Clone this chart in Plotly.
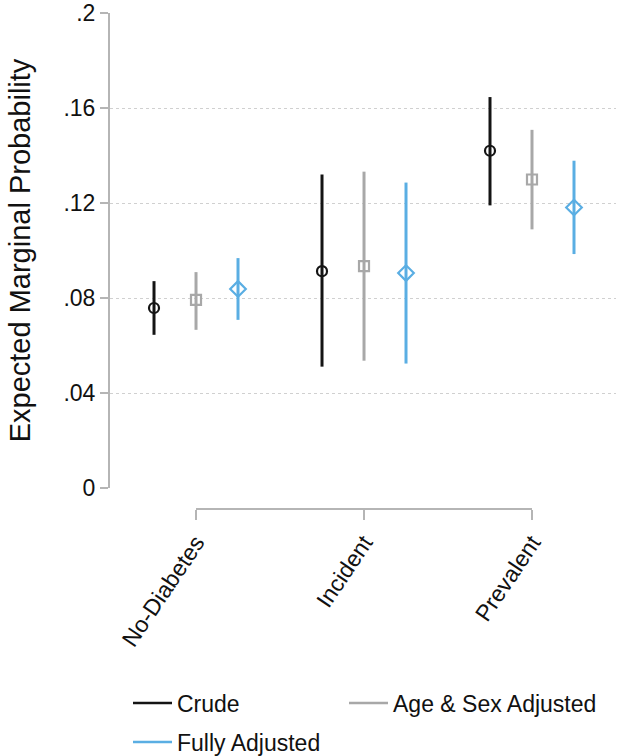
import plotly.graph_objects as go

categories = ["No-Diabetes", "Incident", "Prevalent"]
series_names = ["Crude", "Age & Sex Adjusted", "Fully Adjusted"]

crude = [0.0758, 0.0913, 0.1420]
crude_lo = [0.0645, 0.0511, 0.1190]
crude_hi = [0.0871, 0.1320, 0.1646]

agesex = [0.0792, 0.0934, 0.1299]
agesex_lo = [0.0666, 0.0536, 0.1089]
agesex_hi = [0.0909, 0.1332, 0.1508]

fully = [0.0838, 0.0905, 0.1181]
fully_lo = [0.0708, 0.0524, 0.0985]
fully_hi = [0.0968, 0.1286, 0.1378]

y_tickvals = [0, 0.04, 0.08, 0.12, 0.16, 0.2]
y_ticktext = ["0", ".04", ".08", ".12", ".16", ".2"]
grid_vals = [0.04, 0.08, 0.12, 0.16]

colors = ["#141414", "#a8a8a8", "#5aaee3"]
symbols = ["circle-open", "square-open", "diamond-open"]
offsets = [-0.25, 0.0, 0.25]
sizes = [10, 10, 12]

series = [(crude, crude_lo, crude_hi), (agesex, agesex_lo, agesex_hi), (fully, fully_lo, fully_hi)]

fig = go.Figure()
base_x = list(range(1, len(categories) + 1))
for i, (vals, lo, hi) in enumerate(series):
    xs = [b + offsets[i] for b in base_x]
    fig.add_trace(go.Scatter(
        x=xs, y=vals, mode="markers", showlegend=False,
        marker=dict(symbol=symbols[i], size=sizes[i], color=colors[i], line=dict(width=2.2, color=colors[i])),
        error_y=dict(type="data", symmetric=False,
                     array=[h - v for h, v in zip(hi, vals)],
                     arrayminus=[v - l for v, l in zip(vals, lo)],
                     width=0, thickness=3, color=colors[i]),
    ))

# legend entries (line swatches), one legend box per position
legend_ids = ["legend", "legend2", "legend3"]
for i in range(3):
    fig.add_trace(go.Scatter(x=[None], y=[None], mode="lines", name=series_names[i],
                             legend=legend_ids[i], line=dict(color=colors[i], width=2.5)))

# x-axis baseline spanning the categories (Stata style)
fig.add_shape(type="line", xref="x", yref="paper", x0=base_x[0], x1=base_x[-1], y0=0, y1=0,
              line=dict(color="#b5b5b5", width=2))

legend_font = dict(size=23, color="#111111", family="Liberation Sans, Arial, sans-serif")


def leg(xpix, ypix):
    return dict(orientation="h", xref="container", yref="container",
                x=xpix / 618, xanchor="left", y=(756 - ypix) / 756, yanchor="middle",
                itemwidth=39, bgcolor="rgba(0,0,0,0)", font=legend_font)


plot_top, plot_bottom = 13, 509
fig.update_layout(
    template="none",
    width=618, height=756,
    margin=dict(l=110, r=2, t=plot_top, b=756 - plot_bottom, autoexpand=False),
    paper_bgcolor="white", plot_bgcolor="white",
    font=dict(family="Liberation Sans, Arial, sans-serif", color="#111111"),
    xaxis=dict(
        range=[0.488, 3.5], anchor="free", position=0,
        tickvals=base_x, ticktext=categories, tickangle=-56,
        ticks="outside", ticklen=10, tickwidth=2, tickcolor="#b5b5b5",
        showgrid=False, zeroline=False, showline=False,
        tickfont=dict(size=23, color="#111111"),
    ),
    yaxis=dict(
        domain=[21 / (plot_bottom - plot_top), 1], range=[0, 0.2],
        tickvals=y_tickvals, ticktext=y_ticktext,
        ticks="outside", ticklen=8, tickwidth=2, tickcolor="#b5b5b5",
        showline=True, linecolor="#b5b5b5", linewidth=2,
        showgrid=False, zeroline=False, ticklabeloverflow="allow",
        tickfont=dict(size=23, color="#111111"),
        title=dict(text="Expected Marginal Probability", font=dict(size=29, color="#111111"), standoff=24),
        minor=dict(tickvals=grid_vals, showgrid=True, gridcolor="#d0d0d0",
                   griddash="dot", gridwidth=1.2, ticks=""),
    ),
    legend=leg(128, 703),
    legend2=leg(344, 703),
    legend3=leg(128, 742),
)

fig.write_html("out.html", config={"displayModeBar": False},
               post_script="document.body.style.margin='0';document.body.style.overflow='hidden';")
